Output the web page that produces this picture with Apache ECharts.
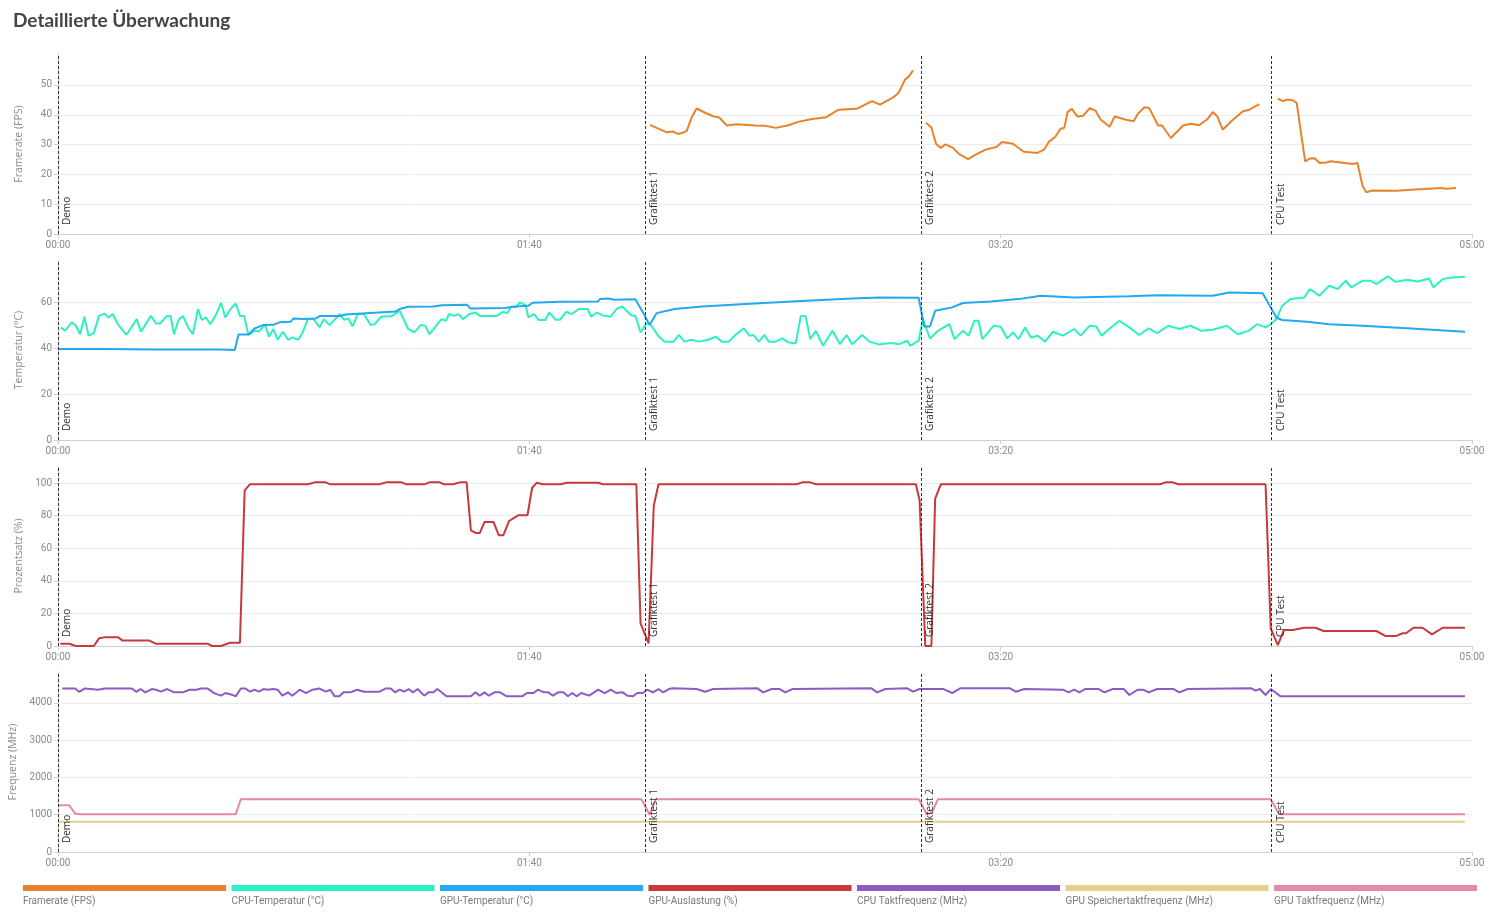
<!DOCTYPE html>
<html>
<head>
<meta charset="utf-8">
<script src="https://cdn.jsdelivr.net/npm/echarts@6/dist/echarts.min.js"></script>
<style>html,body{margin:0;padding:0;background:#fff}#c{width:1501px;height:923px}</style>
</head>
<body>
<div id="c"></div>
<script>
// ---- data (time in seconds, value) ----
const seriesNames = ['Framerate (FPS)','CPU-Temperatur (°C)','GPU-Temperatur (°C)','GPU-Auslastung (%)','CPU Taktfrequenz (MHz)','GPU Speichertaktfrequenz (MHz)','GPU Taktfrequenz (MHz)'];
const seriesColors = ['#e8832b','#2cf1c1','#22a9f0','#c8393b','#8c5bc5','#e5cf8c','#e589a8'];
const markerNames = ['Demo','Grafiktest 1','Grafiktest 2','CPU Test'];
const markerTimes = [0,124.5,183.1,257.5];
const axisNames = ['Framerate (FPS)','Temperatur (°C)','Prozentsatz (%)','Frequenz (MHz)'];
const fpsTicks = [0,10,20,30,40,50];
const tempTicks = [0,20,40,60];
const loadTicks = [0,20,40,60,80,100];
const freqTicks = [0,1000,2000,3000,4000];
const xTicks = [0,100,200,300];

const fpsData = [[125.6,36.6],[127,35.6],[129.2,34.1],[130.4,34.4],[131.5,33.6],[132.5,33.9],[133.4,34.6],[134.5,39.3],[135.5,42.1],[137.4,40.6],[139,39.5],[140.3,39.1],[141.9,36.4],[143.9,36.8],[147.9,36.4],[150,36.3],[152.3,35.6],[155,36.5],[157.2,37.7],[160,38.6],[163,39.2],[165.6,41.7],[169.4,42],[171,43.2],[172.7,44.6],[174.4,43.4],[177.2,45.8],[178.4,47.5],[179.7,51.8],[180.5,52.8],[181.4,54.9],
 [183,'-'],
 [184.2,37.3],[185.3,35.7],[186.3,30.2],[187.3,28.9],[188.3,30.1],[189.8,29],[191.2,26.8],[193.1,25.1],[194.7,26.6],[196.8,28.3],[199.1,29.2],[200.3,30.9],[202.6,30.3],[204.9,27.6],[207.8,27.2],[209.2,28.3],[210.2,30.9],[211.6,32.6],[212.7,35.3],[213.5,35.6],[214.2,40.9],[215.1,42],[216.3,39.4],[217.5,39.7],[218.9,42.2],[220.1,41.4],[221.2,38.4],[223.1,36],[224.2,39.4],[226.4,38.4],[228.2,37.8],[229.1,40.3],[230.5,42.5],[231.5,42.3],[233.4,36.4],[234.2,36.5],[236.1,32.2],[238.7,36.4],[240.4,37],[242.1,36.5],[243.9,38.6],[245,40.9],[246,39.4],[247.1,35],[249.1,38.1],[251.4,41.2],[252.6,41.6],[254.9,43.6],
 [257,'-'],
 [258.8,45.4],[259.9,44.6],[260.8,45.1],[262.1,44.8],[262.8,44],[264.6,24.4],[265.6,25.3],[266.6,25.4],[267.7,23.8],[269.1,24],[270,24.4],[273,23.8],[274.7,23.5],[275.7,23.8],[276.8,16],[277.6,14],[278.8,14.6],[284,14.5],[288.7,15],[290,15.1],[293.3,15.4],[294.5,15.2],[296.6,15.4]];

const cpuTempData = [[0.6,49],[1.5,47.5],[2.9,51.2],[3.8,49.7],[4.7,46],[5.6,53.6],[6.5,45.4],[7.6,46.5],[8.7,54],[9.9,55],[10.7,53.3],[11.6,54.8],[12.7,50.4],[14.5,45.7],[16.7,52.6],[17.6,47.1],[19.7,54],[20.8,50.7],[21.7,50.7],[23,53.8],[23.9,54],[24.6,46],[25.6,52.3],[26.5,54],[27.7,48.6],[28.6,46],[29.7,57],[30.5,52.3],[31.4,53.3],[32.3,50.4],[33.4,54],[34.6,59.6],[35.5,53.3],[36.6,57],[37.7,59.4],[38.6,54],[39.5,54],[40.4,45.7],[41.7,47.5],[42.6,47.2],[43.9,50.1],[44.8,45],[45.7,48.3],[46.6,43.6],[47.7,47.1],[48.8,43.6],[49.7,44.6],[51,43.6],[51.9,46.8],[53,52.6],[54.2,52.6],[55.5,49],[56.4,52.6],[57.6,50],[59.8,54.8],[60.7,52.3],[61.6,52.9],[62.5,49.4],[63.6,54.8],[64.9,54.8],[66.3,50.1],[67.2,50.4],[68.5,53.6],[70.7,53.8],[72.5,56.2],[74.3,48.3],[75.6,46.8],[77,50.1],[77.9,49.7],[78.8,46],[80.5,50.4],[81.4,52.6],[82.3,51.9],[83,54.8],[84.1,54],[85,54.8],[85.9,52.6],[87.3,54.8],[88.6,55.5],[89.5,54],[93.1,54],[94.4,55.8],[95.3,55.2],[96.2,58.1],[97.1,57.7],[98,59.9],[99.2,58.7],[99.8,53.3],[101,54.8],[102,52.2],[103.4,52.2],[104.2,55.5],[105.6,52.3],[106.5,52.3],[107.8,55.8],[109,54.8],[110.5,57],[112.4,57],[113.1,53.6],[114.3,55.5],[115.4,54.3],[117.2,53.6],[118.5,57],[119.7,58.1],[121.6,54.3],[122.5,54],[123.6,46.8],[124.7,50.4],[125.5,51],[127.3,45.4],[128.7,42.8],[130.6,42.8],[131.7,45.7],[132.9,42.8],[134.3,43.6],[136.1,42.8],[137.9,43.6],[139.6,44.9],[140.8,42.8],[142.3,42.8],[143.7,45.7],[145.5,48.6],[146.7,45.4],[147.5,45.7],[148.7,42.8],[149.9,45.7],[150.8,42.8],[152.2,42.8],[153.7,44.2],[154.9,42.5],[156.5,42],[157.6,54],[158.6,54],[159.6,43.9],[160.8,47.5],[162.3,41],[164.3,47.5],[165.9,41.7],[167.3,45.7],[168.5,41.7],[170.6,45.7],[172.2,42.8],[174.1,41.6],[176.7,42.2],[178.5,41.7],[180.2,43.2],[180.8,41],[182.6,43.2],[183.5,52.6],[185,44.2],[186.7,47.5],[189.1,50.4],[190.2,43.9],[192,47.5],[193.2,45.4],[194.4,51.9],[195.3,51.9],[196.1,43.9],[198.5,49.7],[200,49.3],[201.4,44.2],[202.6,46.8],[203.8,43.9],[205.2,49],[206.4,44.6],[207.9,45.4],[209.4,42.8],[211.1,47.1],[213.2,45.4],[215.6,48.3],[217,45.4],[218.9,49.7],[220.3,49.4],[221.4,45.4],[223.2,48.6],[225.2,51.9],[227.3,49],[229.4,45.7],[231.4,48.6],[233.2,46.5],[235.6,49.7],[237.9,48.3],[240.3,49.7],[242.6,47.5],[245,48],[248,49.7],[250.3,46],[252.6,47.5],[254.4,50.4],[256.2,49],[257.3,50.4],[258.5,52.6],[259.7,58.4],[261.5,61.3],[264.4,62],[265.6,65.7],[267.6,62.8],[269.7,67.1],[271.5,65.7],[273.2,69.3],[274.4,66.4],[276.8,69.3],[278.5,69.3],[279.7,67.8],[282.1,71.2],[283.8,68.8],[286.2,69.7],[288.5,69],[290.9,70.3],[291.8,66.4],[293.8,70],[295.6,70.7],[298.5,71]];

const gpuTempData = [[0,39.6],[10,39.6],[20,39.4],[30,39.4],[34,39.4],[37.5,39.2],[38.3,45.9],[40.4,45.9],[41.7,48.5],[43.5,50],[45.7,50.1],[47,51.2],[49.3,51.4],[50,52.9],[52,52.6],[54.7,52.9],[55.6,54],[60,54],[61,54.6],[65.4,55.2],[68,55.5],[71.6,55.9],[72.5,57],[74.3,58],[79.6,58.1],[81.5,58.6],[86.8,58.8],[87.5,57.2],[94.8,57.4],[97,58.1],[99.8,58.4],[100.7,59.7],[106.5,60.1],[114.5,60.3],[115,61.3],[116.8,61.6],[118,61],[122.5,61.2],[124.3,54.8],[125.5,50],[127,55.2],[130.8,57],[136.7,58.1],[144.9,59.1],[156.7,60.4],[168.5,61.6],[174.3,62],[182.6,61.9],[183.8,49.4],[185,49.4],[186.1,56.2],[189.7,57.7],[192,59.6],[197.9,60.3],[203.8,61.3],[208.5,62.8],[215.6,62],[227.3,62.5],[233.2,63],[245,62.8],[248.5,64.2],[255.6,63.9],[258.5,53.3],[259.7,52.2],[265,51.4],[269.7,50.4],[276.8,49.7],[286.2,48.6],[298.5,47.1]];

const gpuLoadData = [[0.5,1.4],[2.4,1.4],[3.8,0],[7.6,0],[8.7,4.7],[9.9,5.3],[12.8,5.3],[13.7,3.3],[19.4,3.3],[20.7,1.4],[31.7,1.4],[32.7,0],[34.6,0],[36.5,2],[38.6,2],[39.6,95.5],[40.7,99.2],[53,99.2],[54.5,100.4],[56.8,100.4],[57.8,99.2],[68.2,99.2],[69.6,100.4],[72.9,100.4],[73.9,99.2],[77.7,99.2],[78.8,100.4],[81,100.4],[81.9,99.2],[83.8,99.2],[85.3,100.4],[86.7,100.4],[87.6,71],[88.6,69.4],[89.5,69.4],[90.5,76.1],[92.4,76.1],[93.5,68],[94.5,68],[95.7,76.7],[97.6,80.2],[99.6,80.2],[100.6,97.1],[101.6,100.2],[102.8,99.2],[106.6,99.2],[108,100.2],[114.6,100.2],[115.6,99.2],[122.7,99.2],[123.6,13.9],[125.3,1.6],[126.4,86],[127.4,99.2],[156.7,99.2],[157.9,100.4],[159.6,100.4],[160.8,99.2],[182,99.2],[182.8,89.4],[184,0],[185.3,0],[186.1,90.4],[187.3,99.2],[233.8,99.2],[235,100.4],[236.5,100.4],[237.7,99.2],[256.2,99.2],[257.3,10.8],[258.8,0.6],[260.1,9.8],[262,9.8],[264.4,11.2],[266.8,11.2],[268.5,9.2],[279.7,9.2],[281.7,6.1],[283.8,6.1],[285.3,7.8],[286,7.8],[287.6,11.2],[289.5,11.2],[291.5,7.1],[293.8,11.2],[298.5,11.2]];

const cpuClockData = [[0.9,4390],[3.6,4390],[4.5,4300],[5.7,4390],[8.5,4356],[9.9,4390],[15.6,4390],[16.6,4300],[17.5,4374],[18.5,4285],[19.9,4374],[20.8,4356],[21.8,4303],[23.2,4374],[24.6,4285],[26.5,4285],[27.9,4356],[29.4,4356],[30.3,4390],[31.7,4390],[33.2,4258],[34.6,4196],[35.5,4267],[36.9,4222],[37.7,4178],[38.8,4390],[39.8,4390],[40.7,4303],[41.7,4356],[42.6,4303],[43.6,4374],[44.5,4356],[45.7,4374],[46.6,4356],[47.6,4196],[48.8,4285],[49.7,4196],[51.3,4356],[52.6,4267],[54,4356],[55.4,4390],[56.8,4303],[57.8,4356],[58.7,4178],[59.7,4178],[60.6,4285],[62,4285],[63.5,4356],[64.9,4303],[68.2,4303],[69.6,4390],[70.6,4390],[71.5,4285],[72.5,4356],[73.4,4303],[74.4,4374],[75.3,4285],[76.3,4374],[77.7,4196],[78.6,4285],[79.6,4285],[80.5,4374],[82.4,4178],[87.6,4178],[88.6,4285],[89.5,4196],[90.5,4285],[91.4,4196],[92.6,4285],[93.8,4285],[95.2,4178],[98.5,4178],[99.5,4267],[100.9,4267],[101.8,4356],[103.1,4285],[104,4285],[105,4196],[106.1,4285],[107.2,4285],[108.2,4178],[109.1,4267],[110.1,4178],[111,4267],[112.7,4196],[114.6,4356],[116,4267],[117.3,4356],[118.4,4267],[119.8,4285],[120.8,4196],[122,4178],[122.9,4267],[124.1,4267],[125,4356],[126.2,4285],[127.4,4374],[128.4,4285],[129.6,4374],[130.2,4392],[135.5,4374],[137.3,4303],[139,4374],[148.4,4392],[149.6,4285],[151.4,4374],[153.1,4374],[154.3,4285],[155.8,4374],[172.6,4392],[173.8,4285],[175.5,4374],[180.2,4392],[181.4,4303],[182.8,4374],[187.9,4374],[189.7,4267],[191.4,4392],[202,4392],[203.2,4303],[205,4374],[213.2,4356],[214.4,4285],[215.6,4356],[216.7,4285],[217.9,4374],[220.8,4374],[222,4285],[223.8,4374],[226.1,4374],[227.3,4214],[229.1,4356],[230.2,4356],[231.4,4285],[233.2,4374],[236.7,4374],[237.9,4285],[239.7,4374],[253.2,4392],[254.1,4330],[255,4374],[256.2,4214],[257.3,4374],[259.4,4178],[298.5,4178]];

const gpuMemClockData = [[0,810],[298.5,810]];

const gpuClockData = [[0,1256],[2.4,1256],[3.6,1033],[4.7,1016],[37.7,1016],[38.8,1417],[123.8,1417],[125.5,1000],[126.8,1417],[182.6,1417],[184.4,1007],[185.5,1080],[186.7,1417],[257.3,1417],[259.1,1016],[298.5,1016]];

// ---- chart ----
const chart = echarts.init(document.getElementById('c'), null, {renderer:'canvas'});
const gridTops = [54,260,466,672];
const yTicks = [fpsTicks,tempTicks,loadTicks,freqTicks];
const ySteps = [5,10,10,500];
const panelSeries = [[0],[1,2],[3],[4,5,6]];
const dataSets = [fpsData,cpuTempData,gpuTempData,gpuLoadData,cpuClockData,gpuMemClockData,gpuClockData];
const labelFont = 'Roboto, sans-serif';

function mmss(v){const m=Math.floor(v/60), s=Math.round(v%60);return (m<10?'0':'')+m+':'+(s<10?'0':'')+s;}

const grids = gridTops.map(t=>({left:58,right:29,top:t,height:180,outerBoundsMode:'none',containLabel:false}));
const xAxes = gridTops.map((t,i)=>({
  type:'value',gridIndex:i,min:0,max:300,interval:100,
  axisLine:{lineStyle:{color:'#cfcfcf'}},
  axisTick:{show:true,length:4,lineStyle:{color:'#cfcfcf'}},
  axisLabel:{color:'#8a8a8a',fontSize:10,fontFamily:labelFont,formatter:mmss,customValues:xTicks,margin:6},
  splitLine:{show:false}
}));
const yAxes = gridTops.map((t,i)=>({
  type:'value',gridIndex:i,min:0,max:(v)=>v.max*1.1,interval:ySteps[i],
  name:axisNames[i],nameLocation:'middle',nameGap:33,
  nameTextStyle:{color:'#8a8a8a',fontSize:10.5,fontFamily:'"Open Sans", sans-serif'},
  axisLine:{show:true,lineStyle:{color:'#cfcfcf'}},
  axisTick:{show:true,length:4,customValues:yTicks[i],lineStyle:{color:'#cfcfcf'}},
  axisLabel:{color:'#8a8a8a',fontSize:10,fontFamily:labelFont,customValues:yTicks[i],margin:6,formatter:(v)=>String(v)},
  splitLine:{show:true,lineStyle:{color:'#ececec',width:1}}
}));

const markLine = {
  silent:true,symbol:['none','none'],animation:false,
  lineStyle:{color:'#333',type:[3,2],width:1},
  label:{show:true,position:'insideStartBottom',formatter:'{b}',color:'#333',fontSize:10,fontFamily:'"Open Sans", sans-serif',distance:4,padding:[0,0,0,5]},
  emphasis:{disabled:true},
  data:markerNames.map((n,i)=>({name:n,xAxis:markerTimes[i]}))
};

const series = [];
panelSeries.forEach((idxs,p)=>{
  idxs.forEach((si,j)=>{
    const s = {
      name:seriesNames[si],type:'line',xAxisIndex:p,yAxisIndex:p,
      data:dataSets[si],showSymbol:false,connectNulls:false,
      lineStyle:{width:2,color:seriesColors[si]},itemStyle:{color:seriesColors[si]},
      animation:false
    };
    if(j===0) s.markLine = markLine;
    series.push(s);
  });
});

const graphic = [];
seriesNames.forEach((n,i)=>{
  const x = 23 + i*208.5;
  graphic.push({type:'rect',left:x,top:885,shape:{width:203,height:6},style:{fill:seriesColors[i]},silent:true});
  graphic.push({type:'text',left:x,top:896,style:{text:n,fill:'#7a7a7a',fontSize:10,fontFamily:labelFont},silent:true});
});

chart.setOption({
  backgroundColor:'#fff',
  animation:false,
  title:{text:'Detaillierte Überwachung',left:8,top:6,textStyle:{color:'#444',fontSize:19,fontWeight:'bold',fontFamily:'Lato, sans-serif'}},
  grid:grids,xAxis:xAxes,yAxis:yAxes,series:series,graphic:graphic
});
</script>
</body>
</html>
